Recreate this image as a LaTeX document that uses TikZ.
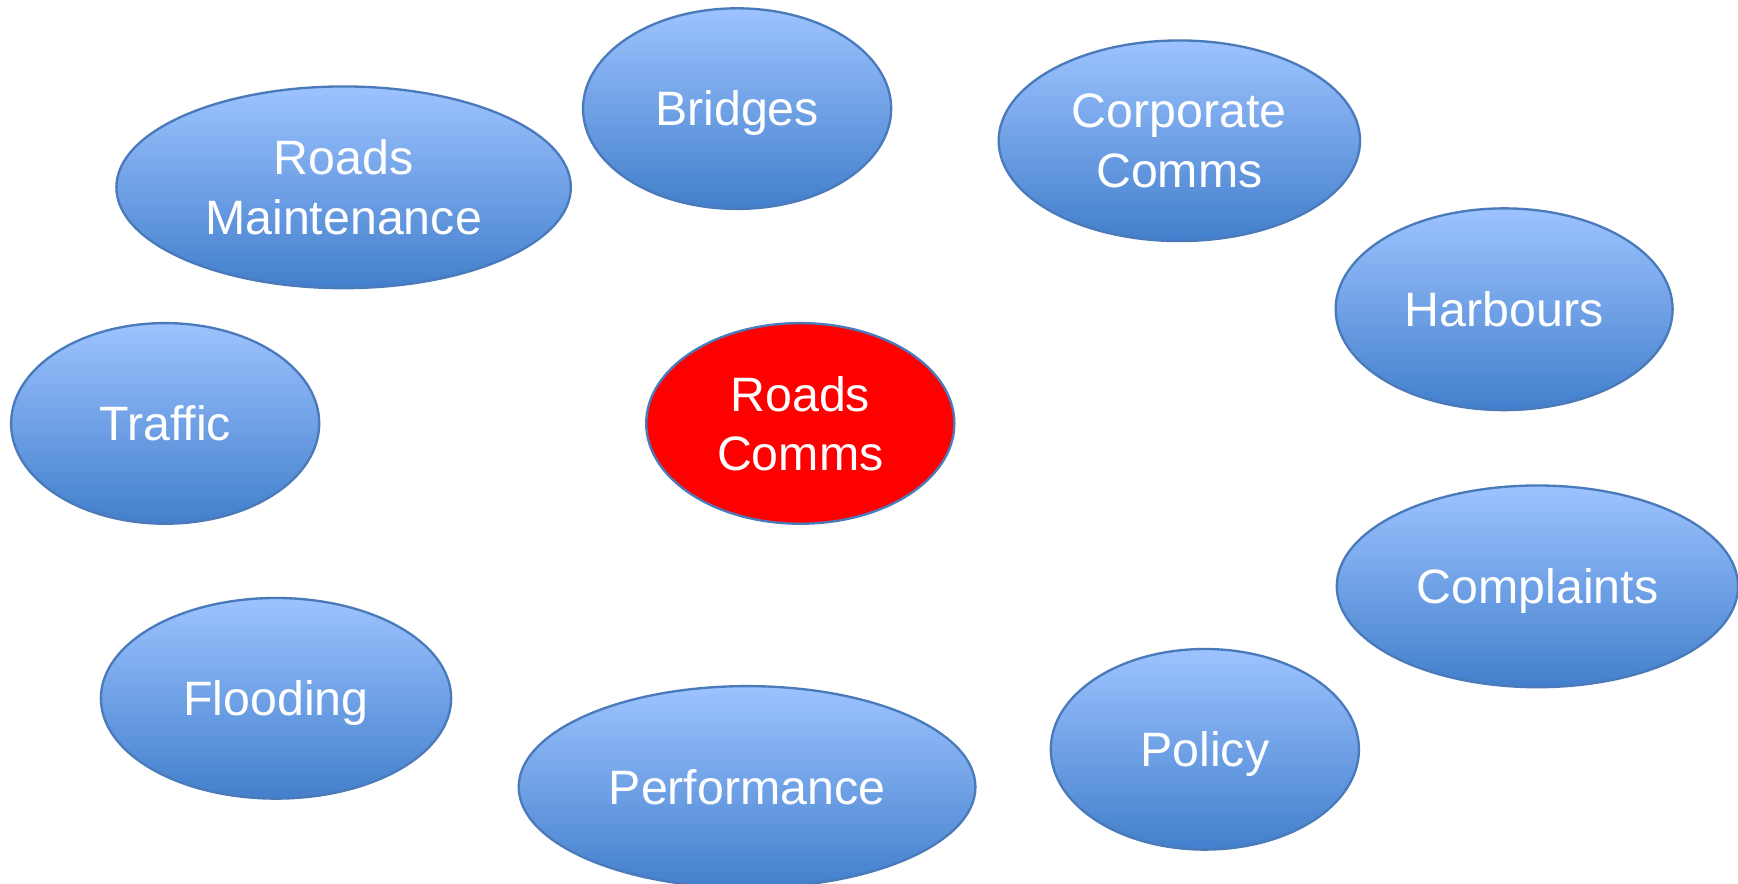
\documentclass[tikz,border=0pt]{standalone}
\usepackage{fontspec}
\setmainfont{Liberation Sans}
\usetikzlibrary{shapes.geometric}
\definecolor{bubbletop}{RGB}{157,195,255}
\definecolor{bubblemid}{RGB}{120,166,236}
\definecolor{bubblebottom}{RGB}{66,127,204}
\definecolor{bubbleline}{RGB}{74,122,186}
\begin{document}
\begin{tikzpicture}[
    x=1cm, y=1cm,
    blob/.style={ellipse, draw=bubbleline, line width=0.6pt, inner sep=0pt,
      text=white, align=center, font=\fontsize{12.4}{15.2}\selectfont},
    bubble/.style={blob, top color=bubbletop, middle color=bubblemid, bottom color=bubblebottom},
    oneline/.style={text height=8.9pt, text depth=0pt},
    hub/.style={blob, fill=red}
  ]
        % frame of the picture
        \useasboundingbox (0,0) rectangle (15.68,-7.97);
        % centres of the bubbles
        \coordinate (centre)      at ( 7.22, -3.82);
        \coordinate (bridges)     at ( 6.65, -0.98);
        \coordinate (maintenance) at ( 3.10, -1.69);
        \coordinate (corporate)   at (10.64, -1.27);
        \coordinate (harbours)    at (13.57, -2.79);
        \coordinate (traffic)     at ( 1.49, -3.82);
        \coordinate (complaints)  at (13.87, -5.29);
        \coordinate (flooding)    at ( 2.49, -6.30);
        \coordinate (policy)      at (10.87, -6.76);
        \coordinate (performance) at ( 6.74, -7.10);
        % drawing the middle bubble
        \node[hub, minimum width=2.78cm, minimum height=1.81cm] (roadscomms) at (centre) {Roads\\Comms};
        % drawing the bubbles round it
        \node[bubble, oneline, minimum width=2.78cm, minimum height=1.81cm] (bridgesnode)     at (bridges)     {Bridges};
        \node[bubble,          minimum width=4.10cm, minimum height=1.82cm] (maintenancenode) at (maintenance) {Roads\\Maintenance};
        \node[bubble,          minimum width=3.26cm, minimum height=1.81cm] (corporatenode)   at (corporate)   {Corporate\\Comms};
        \node[bubble, oneline, minimum width=3.04cm, minimum height=1.82cm] (harboursnode)    at (harbours)    {Harbours};
        \node[bubble, oneline, minimum width=2.78cm, minimum height=1.81cm] (trafficnode)     at (traffic)     {Traffic};
        \node[bubble, oneline, minimum width=3.62cm, minimum height=1.82cm] (complaintsnode)  at (complaints)  {Complaints};
        \node[bubble, oneline, minimum width=3.16cm, minimum height=1.81cm] (floodingnode)    at (flooding)    {Flooding};
        \node[bubble, oneline, minimum width=2.78cm, minimum height=1.81cm] (policynode)      at (policy)      {Policy};
        \node[bubble, oneline, minimum width=4.12cm, minimum height=1.82cm] (performancenode) at (performance) {Performance};
      \end{tikzpicture}
\end{document}
